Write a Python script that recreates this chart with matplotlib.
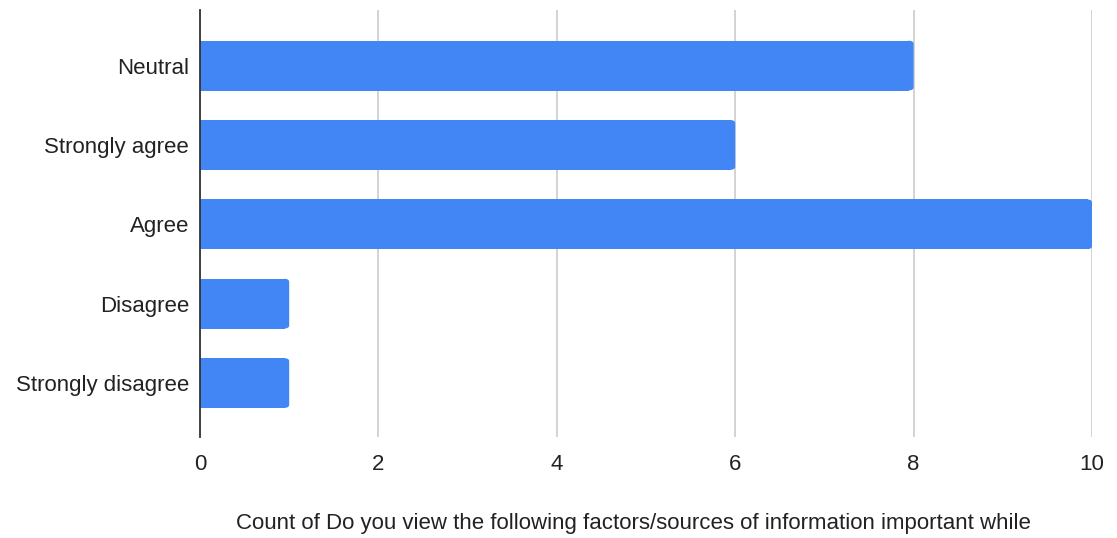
import matplotlib
matplotlib.use("Agg")
import matplotlib.pyplot as plt
from matplotlib.patches import FancyBboxPatch

categories = ["Strongly disagree", "Disagree", "Agree", "Strongly agree", "Neutral"]
counts = [1, 1, 10, 6, 8]
x_ticks = [0, 2, 4, 6, 8, 10]
x_title = "Count of Do you view the following factors/sources of information important while"

plt.rcParams['font.family'] = ['Liberation Sans', 'DejaVu Sans']

fig = plt.figure(figsize=(11.17, 5.38), dpi=100)
ax = fig.add_axes([200 / 1117, 1 - 437 / 538, 892 / 1117, 427 / 538])

bar_h = 0.63
for i, v in enumerate(counts):
    # bars with slightly rounded right corners, like the original
    ax.barh(i, v - 0.05, height=bar_h, color="#4285F4", zorder=2)
    patch = FancyBboxPatch((v - 0.1, i - bar_h / 2), 0.1, bar_h,
                           boxstyle="round,pad=0,rounding_size=0.07",
                           mutation_aspect=0.55,
                           facecolor="#4285F4", edgecolor="none", zorder=2)
    ax.add_patch(patch)

ax.set_xlim(0, 10)
ax.set_ylim(-0.68, 4.7)
ax.set_yticks(range(len(categories)))
ax.set_yticklabels(categories, fontsize=16, color="#222222")
ax.set_xticks(x_ticks)
ax.set_xticklabels([str(t) for t in x_ticks], fontsize=16, color="#222222")
ax.tick_params(axis="both", length=0)
ax.tick_params(axis="x", pad=12)
ax.tick_params(axis="y", pad=8)

ax.grid(axis="x", color="#cccccc", linewidth=1.2, zorder=0)
for side in ["top", "right", "bottom"]:
    ax.spines[side].set_visible(False)
ax.spines["left"].set_color("#333333")
ax.spines["left"].set_linewidth(1.3)
ax.spines["left"].set_zorder(3)

fig.text(633 / 1117, 1 - 524 / 538, x_title, ha="center", va="center",
         fontsize=16, color="#222222")

fig.savefig("out.png", dpi=100, facecolor="white")
